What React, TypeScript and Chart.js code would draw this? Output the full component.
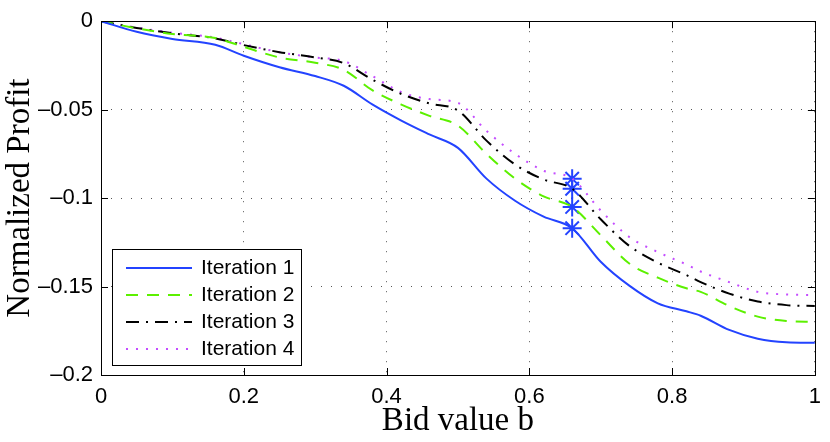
import { useEffect, useRef } from "react";
import { Chart, registerables } from "chart.js";
import type { Plugin } from "chart.js";

Chart.register(...registerables);

const bidValues = [0, 0.05, 0.1, 0.16, 0.2, 0.25, 0.3, 0.34, 0.38, 0.42, 0.46, 0.5, 0.54, 0.58, 0.62, 0.66, 0.7, 0.74, 0.78, 0.82, 0.84, 0.88, 0.92, 0.96, 1];

const iteration1 = [0, -0.006, -0.01, -0.0133, -0.0195, -0.026, -0.031, -0.0365, -0.047, -0.056, -0.064, -0.0716, -0.089, -0.1015, -0.1105, -0.117, -0.136, -0.1495, -0.1595, -0.164, -0.1665, -0.1745, -0.1795, -0.1815, -0.1818];
const iteration2 = [0, -0.004, -0.0072, -0.0095, -0.0145, -0.0205, -0.0235, -0.0275, -0.039, -0.047, -0.0535, -0.059, -0.075, -0.089, -0.099, -0.105, -0.121, -0.137, -0.145, -0.151, -0.153, -0.161, -0.167, -0.1695, -0.17];
const iteration3 = [0, -0.0038, -0.0068, -0.0097, -0.0135, -0.0175, -0.0205, -0.0237, -0.033, -0.041, -0.0465, -0.0505, -0.0675, -0.081, -0.0895, -0.0947, -0.112, -0.127, -0.1365, -0.1435, -0.1475, -0.154, -0.1585, -0.1605, -0.161];
const iteration4 = [0, -0.0036, -0.0065, -0.0093, -0.013, -0.0175, -0.0205, -0.0225, -0.031, -0.04, -0.044, -0.0462, -0.062, -0.075, -0.0845, -0.089, -0.107, -0.122, -0.1305, -0.1375, -0.1415, -0.1475, -0.153, -0.1545, -0.1548];

const seriesLabels = ["Iteration 1", "Iteration 2", "Iteration 3", "Iteration 4"];
const seriesColors = ["#2343ff", "#5cf000", "#000000", "#c44cff"];
const seriesDashes = [[], [12, 9], [13, 7, 2, 7], [2, 8]];

// the optimal bid marked with asterisks
const markerBid = 0.66;

const xTicks = [0, 0.2, 0.4, 0.6, 0.8, 1];
const yTicks = [0, -0.05, -0.1, -0.15, -0.2];

const fmt = (v: number) => {
    if (v === 0) return "0";
    const s = String(Number(Math.abs(v).toFixed(2)));
    return v < 0 ? "\u2013" + s : s;
};

const framePlugin: Plugin<"line"> = {
    id: "frame",
    afterDatasetsDraw(chart) {
        const { ctx, chartArea: a, scales } = chart;
        const x = scales.x;
        const y = scales.y;
        ctx.save();
        ctx.strokeStyle = "#000";
        ctx.lineWidth = 1;
        ctx.strokeRect(Math.round(a.left) + 0.5, Math.round(a.top) + 0.5, Math.round(a.right - a.left), Math.round(a.bottom - a.top));
        ctx.beginPath();
        const tl = 7;
        xTicks.forEach((v) => {
            const px = Math.round(x.getPixelForValue(v)) + 0.5;
            ctx.moveTo(px, a.bottom);
            ctx.lineTo(px, a.bottom - tl);
            ctx.moveTo(px, a.top);
            ctx.lineTo(px, a.top + tl);
        });
        yTicks.forEach((v) => {
            const py = Math.round(y.getPixelForValue(v)) + 0.5;
            ctx.moveTo(a.left, py);
            ctx.lineTo(a.left + tl, py);
            ctx.moveTo(a.right, py);
            ctx.lineTo(a.right - tl, py);
        });
        ctx.stroke();
        ctx.restore();
    },
};

const legendPlugin: Plugin<"line"> = {
    id: "boxLegend",
    afterDraw(chart) {
        const { ctx } = chart;
        const left = 112, top = 249, w = 189, h = 116;
        ctx.save();
        ctx.fillStyle = "#fff";
        ctx.fillRect(left, top, w, h);
        ctx.strokeStyle = "#000";
        ctx.lineWidth = 1;
        ctx.strokeRect(left + 0.5, top + 0.5, w, h);
        seriesLabels.forEach((label, i) => {
            const ds = chart.data.datasets[i] as any;
            const ry = top + 19 + i * 27;
            ctx.beginPath();
            ctx.setLineDash(ds.borderDash || []);
            ctx.strokeStyle = ds.borderColor;
            ctx.lineWidth = 2;
            ctx.moveTo(left + 14, ry);
            ctx.lineTo(left + 80, ry);
            ctx.stroke();
            ctx.setLineDash([]);
            ctx.fillStyle = "#000";
            ctx.font = "21px 'Liberation Sans', Arial, sans-serif";
            ctx.textBaseline = "middle";
            ctx.textAlign = "left";
            ctx.fillText(label, left + 89, ry);
        });
        ctx.restore();
    },
};

const App = () => {
    const chartRef = useRef<HTMLCanvasElement>(null);

    useEffect(() => {
        if (!chartRef.current) return;
        const series = [iteration1, iteration2, iteration3, iteration4];
        const mi = bidValues.indexOf(markerBid);

        const chartInstance = new Chart(chartRef.current, {
            type: "line",
            data: {
                datasets: [
                    ...series.map((s, i) => ({
                        label: seriesLabels[i],
                        data: bidValues.map((b, j) => ({ x: b, y: s[j] })),
                        borderColor: seriesColors[i],
                        borderDash: seriesDashes[i],
                        borderWidth: 2,
                        pointRadius: 0,
                        cubicInterpolationMode: "monotone" as const,
                        fill: false,
                    })),
                    {
                        label: "optimum",
                        data: series.map((s) => ({ x: markerBid, y: s[mi] })),
                        showLine: false,
                        borderColor: "#2343ff",
                        backgroundColor: "#2343ff",
                        pointStyle: "star",
                        pointRadius: 9.5,
                        pointBorderWidth: 2,
                    },
                ],
            },
            options: {
                animation: false,
                responsive: false,
                layout: { padding: { top: 18, right: 15, left: 0, bottom: 0 } },
                plugins: { legend: { display: false }, tooltip: { enabled: false } },
                scales: {
                    x: {
                        type: "linear",
                        min: 0,
                        max: 1,
                        afterBuildTicks: (s) => {
                            s.ticks = xTicks.map((v) => ({ value: v }));
                        },
                        afterFit: (s) => {
                            s.height = 67;
                        },
                        ticks: {
                            color: "#000",
                            padding: 9,
                            font: { family: "'Liberation Sans', Arial, sans-serif", size: 22 },
                            callback: (v) => fmt(Number(v)),
                        },
                        grid: { color: "#555", lineWidth: 1, drawTicks: false },
                        border: { display: false, dash: [1, 9] },
                        title: {
                            display: true,
                            text: "Bid value b",
                            color: "#000",
                            font: { family: "'Liberation Serif', 'Times New Roman', serif", size: 33, lineHeight: 1.2 },
                            padding: { top: 0, bottom: 1 },
                        },
                    },
                    y: {
                        type: "linear",
                        min: -0.2,
                        max: 0,
                        afterBuildTicks: (s) => {
                            s.ticks = yTicks.map((v) => ({ value: v }));
                        },
                        afterFit: (s) => {
                            s.width = 101;
                        },
                        ticks: {
                            color: "#000",
                            padding: 8,
                            font: { family: "'Liberation Sans', Arial, sans-serif", size: 22 },
                            callback: (v) => fmt(Number(v)),
                        },
                        grid: { color: "#555", lineWidth: 1, drawTicks: false },
                        border: { display: false, dash: [1, 9] },
                        title: {
                            display: true,
                            text: "Normalized Profit",
                            color: "#000",
                            font: { family: "'Liberation Serif', 'Times New Roman', serif", size: 33, lineHeight: 1.2 },
                            padding: { top: 1, bottom: 0 },
                        },
                    },
                },
            },
            plugins: [framePlugin, legendPlugin],
        });

        return () => {
            chartInstance.destroy();
        };
    }, []);

    return (
        <div style={{ position: "absolute", left: 0, top: 0, width: 830, height: 442 }}>
            <canvas ref={chartRef} width={830} height={442} />
        </div>
    );
};

export default App;
